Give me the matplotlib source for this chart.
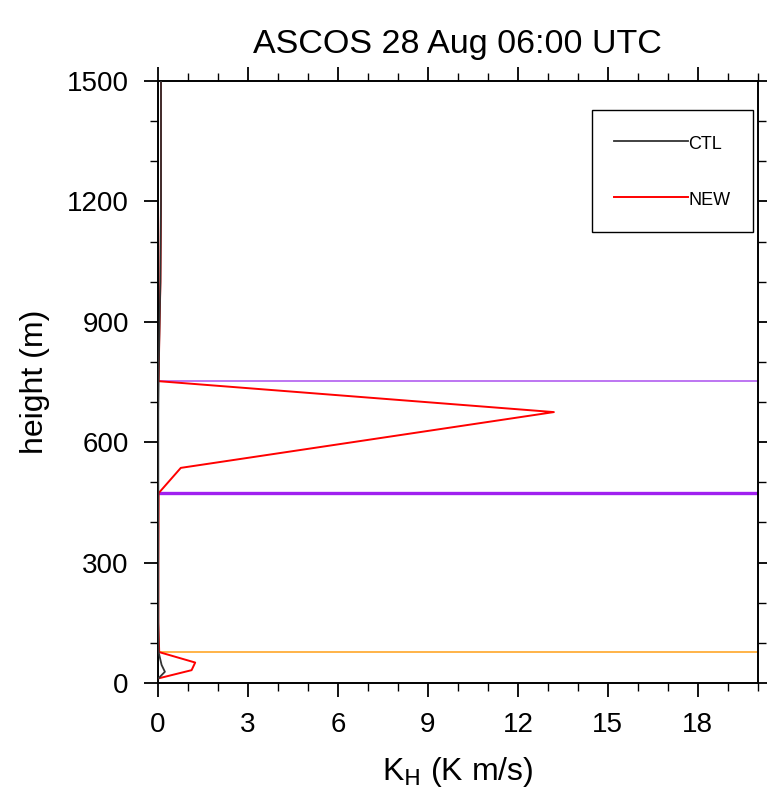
import matplotlib
matplotlib.use('Agg')
import matplotlib.pyplot as plt
from matplotlib.ticker import MultipleLocator

plt.rcParams['font.family'] = ['Liberation Sans', 'DejaVu Sans']

# KH profiles (height in m, KH in K m/s)
height_ctl = [12, 28, 45, 77, 150, 300, 473, 537, 600, 675, 752, 850, 1000, 1200, 1350, 1500]
kh_ctl = [0.02, 0.23, 0.12, 0.02, 0.01, 0.01, 0.01, 0.01, 0.01, 0.01, 0.02, 0.04, 0.08, 0.1, 0.1, 0.1]

height_new = [12, 32, 51, 77, 150, 300, 473, 536, 675, 752, 850, 1000, 1200, 1350, 1500]
kh_new = [0.04, 1.12, 1.24, 0.04, 0.01, 0.01, 0.02, 0.76, 13.2, 0.02, 0.04, 0.08, 0.1, 0.1, 0.1]

# reference levels (m)
sbl_top = 77
mixed_base = 473
mixed_top = 752

fig = plt.figure(figsize=(7.67, 7.93), dpi=100)
ax = fig.add_axes([0.206, 0.1387, 0.782, 0.7592])

ax.axhline(sbl_top, color='#ffb347', lw=1.4, zorder=1)
ax.axhline(mixed_base, color='#a020f0', lw=2.4, zorder=1)
ax.axhline(mixed_top, color='#b25ef0', lw=1.2, zorder=1)

ax.plot(kh_ctl, height_ctl, color='#333333', lw=1.3, label='CTL', zorder=3)
ax.plot(kh_new, height_new, color='red', lw=1.4, label='NEW', zorder=2)

ax.set_xlim(0, 20)
ax.set_ylim(0, 1500)
ax.xaxis.set_major_locator(MultipleLocator(3))
ax.xaxis.set_minor_locator(MultipleLocator(1))
ax.yaxis.set_major_locator(MultipleLocator(300))
ax.yaxis.set_minor_locator(MultipleLocator(100))
ax.tick_params(which='both', direction='out', top=True, right=True, labelsize=20, width=1.3)
ax.tick_params(which='major', length=10, pad=11)
ax.tick_params(which='minor', length=6, width=1.0)
for s in ax.spines.values():
    s.set_linewidth(1.4)

ax.set_title('ASCOS 28 Aug 06:00 UTC', fontsize=24.5, pad=20)
ax.set_xlabel(r'K$_\mathrm{H}$ (K m/s)', fontsize=23, labelpad=12)
ax.set_ylabel('height (m)', fontsize=23, labelpad=12)

leg = ax.legend(loc='upper right', bbox_to_anchor=(753 / 767, 1 - 110 / 793),
                bbox_transform=fig.transFigure, borderaxespad=0, fontsize=13,
                handlelength=4.1, handleheight=1.4, handletextpad=0.0,
                labelspacing=1.95, borderpad=1.25, fancybox=False, framealpha=1)
leg.get_frame().set_edgecolor('black')
leg.get_frame().set_linewidth(1.0)

fig.savefig('out.png', dpi=100)
